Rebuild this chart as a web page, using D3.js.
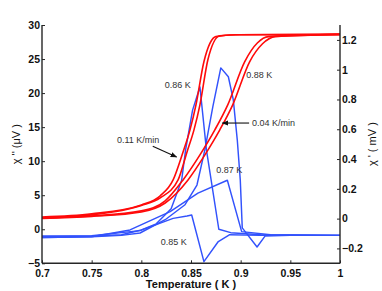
<!DOCTYPE html>
<html><head><meta charset="utf-8">
<script src="https://cdn.jsdelivr.net/npm/d3@7/dist/d3.min.js"></script>
<style>
html,body{margin:0;padding:0;background:#fff;}
svg{display:block;font-family:"Liberation Sans",Arial,Helvetica,sans-serif;}
</style></head>
<body><svg id="c" width="382" height="291"></svg>
<script>
// ---- data ----
const xTicks = [0.7, 0.75, 0.8, 0.85, 0.9, 0.95, 1];
const yLeftTicks = [-5, 0, 5, 10, 15, 20, 25, 30];
const yRightTicks = [-0.2, 0, 0.2, 0.4, 0.6, 0.8, 1, 1.2];

// chi' (mV), red, right axis — [T, value]
const redL1 = [[0.70,0.011],[0.75,0.032],[0.80,0.092],[0.819,0.153],[0.832,0.260],[0.842,0.448],[0.849,0.596],[0.855,0.764],[0.863,1.053],[0.875,1.222],[0.895,1.235],[1.0,1.237]];
const redL2 = [[0.70,0.005],[0.75,0.025],[0.80,0.088],[0.819,0.139],[0.837,0.260],[0.846,0.448],[0.853,0.596],[0.859,0.764],[0.867,1.067],[0.879,1.228],[0.899,1.235],[1.0,1.237]];
const redR1 = [[0.70,0.005],[0.75,0.018],[0.80,0.052],[0.824,0.119],[0.842,0.260],[0.859,0.428],[0.874,0.596],[0.887,0.764],[0.904,1.053],[0.917,1.181],[0.928,1.222],[1.0,1.237]];
const redR2 = [[0.70,0.001],[0.75,0.015],[0.80,0.045],[0.824,0.105],[0.847,0.260],[0.864,0.428],[0.879,0.596],[0.892,0.764],[0.909,1.053],[0.922,1.174],[0.935,1.222],[1.0,1.237]];

// chi'' (uV), blue, left axis — [T, value]
const blue086 = [[0.70,-1.1],[0.75,-1.0],[0.78,-0.8],[0.80,-0.1],[0.815,0.8],[0.83,3.0],[0.8406,7.2],[0.8446,11.7],[0.8516,17.5],[0.859,20.9],[0.8655,11.7],[0.878,0.0],[0.89,-0.5],[0.92,-0.8],[1.0,-0.9]];
const blue088 = [[0.70,-1.2],[0.75,-1.1],[0.78,-0.9],[0.7987,-0.55],[0.824,1.4],[0.844,3.6],[0.856,6.5],[0.864,11.7],[0.872,18.0],[0.880,23.7],[0.8876,22.4],[0.8926,19.0],[0.8966,13.1],[0.8996,7.25],[0.9016,0.2],[0.9165,-2.6],[0.9245,-1.0],[0.95,-0.9],[1.0,-0.9]];
const blue087 = [[0.70,-1.2],[0.75,-1.1],[0.7886,-0.1],[0.829,2.6],[0.857,5.3],[0.8866,7.2],[0.901,-0.35],[0.93,-0.8],[1.0,-0.9]];
const blue085 = [[0.70,-1.0],[0.75,-0.95],[0.7987,-0.2],[0.832,1.6],[0.846,1.95],[0.8507,2.1],[0.863,-4.76],[0.8775,-1.8],[0.889,-0.8],[0.92,-0.9],[1.0,-0.9]];

// annotations: [text, T, value(left axis)]
const labels = [["0.86 K",0.8235,21.2],["0.88 K",0.9055,22.7],["0.11 K/min",0.7755,13.2],["0.04 K/min",0.9115,15.6],["0.87 K",0.8755,8.7],["0.85 K",0.8195,-1.8]];

// ---- drawing ----
const svg = d3.select("#c");
const L = 42, R = 340, T = 25, B = 263.3;
const x = d3.scaleLinear().domain([0.7, 1]).range([L, R]);
const yL = d3.scaleLinear().domain([-5, 30]).range([B, T]);
const yR = d3.scaleLinear().domain([-0.3, 1.3]).range([B, T]);

const lineL = d3.line().x(d => x(d[0])).y(d => yL(d[1]));
const lineR = d3.line().x(d => x(d[0])).y(d => yR(d[1])).curve(d3.curveMonotoneX);

const blue = "rgb(50,82,252)", red = "#ff0a0a";
[blue086, blue088, blue087, blue085].forEach(s =>
  svg.append("path").attr("d", lineL(s)).attr("fill","none").attr("stroke",blue).attr("stroke-width",1.45).attr("stroke-linejoin","round"));
[redL1, redL2, redR1, redR2].forEach(s =>
  svg.append("path").attr("d", lineR(s)).attr("fill","none").attr("stroke",red).attr("stroke-width",1.6).attr("stroke-linejoin","round"));

// axes
const axisColor = "#262626";
const fmt = d => d3.format("")(d).replace("-", "\u2212");
const gx = svg.append("g").attr("transform",`translate(0,${B})`)
  .call(d3.axisTop(x).tickValues(xTicks).tickSize(3).tickFormat(fmt));
const gl = svg.append("g").attr("transform",`translate(${L},0)`)
  .call(d3.axisRight(yL).tickValues(yLeftTicks).tickSize(3).tickFormat(fmt));
gl.selectAll("text").attr("x", -2).attr("text-anchor","end");
const gr = svg.append("g").attr("transform",`translate(${R},0)`)
  .call(d3.axisLeft(yR).tickValues(yRightTicks).tickSize(3).tickFormat(fmt));
gr.selectAll("text").attr("x", 2).attr("text-anchor","start");
[gx, gl, gr].forEach(g => {
  g.select(".domain").attr("stroke", axisColor).attr("stroke-width",1.4);
  g.selectAll(".tick line").attr("stroke", axisColor).attr("stroke-width",1);
  g.selectAll(".tick text").attr("fill","#111").attr("font-size","10.5px").attr("font-weight","bold")
    .attr("font-family",'"Liberation Sans",Arial,sans-serif');
});
gx.selectAll(".tick text").attr("y", 14).attr("dy","0");
gx.select(".domain").attr("d", `M${L},0H${R}`);
gl.select(".domain").attr("d", `M0,${T}V${B}`);
gr.select(".domain").attr("d", `M0,${T}V${B}`);

// axis titles
svg.append("text").attr("x", (L+R)/2).attr("y", 288).attr("text-anchor","middle")
  .attr("font-size","11px").attr("font-weight","bold").attr("fill","#111").text("Temperature ( K )");
svg.append("text").attr("transform",`translate(20,${(T+B)/2}) rotate(-90)`).attr("text-anchor","middle")
  .attr("font-size","11px").attr("fill","#111").text("\u03C7 '' (\u03BCV )");
svg.append("text").attr("transform",`translate(376,${(T+B)/2}) rotate(-90)`).attr("text-anchor","middle")
  .attr("font-size","11px").attr("fill","#111").text("\u03C7 ' ( mV )");

// annotations
labels.forEach(l => svg.append("text").attr("x", x(l[1])).attr("y", yL(l[2])).attr("dy","0.35em")
  .attr("font-size","9px").attr("fill","#333").text(l[0]));

// arrows
const defs = svg.append("defs");
defs.append("marker").attr("id","ah").attr("viewBox","0 0 10 10").attr("refX",9).attr("refY",5)
  .attr("markerWidth",6).attr("markerHeight",6).attr("orient","auto")
  .append("path").attr("d","M0,1L10,5L0,9Z").attr("fill","#111");
const arrows = [[[0.8115,12.2],[0.8355,10.6]],[[0.9085,15.6],[0.8815,15.6]]];
arrows.forEach(a => svg.append("line")
  .attr("x1", x(a[0][0])).attr("y1", yL(a[0][1])).attr("x2", x(a[1][0])).attr("y2", yL(a[1][1]))
  .attr("stroke","#111").attr("stroke-width",1.1).attr("marker-end","url(#ah)"));
</script></body></html>
